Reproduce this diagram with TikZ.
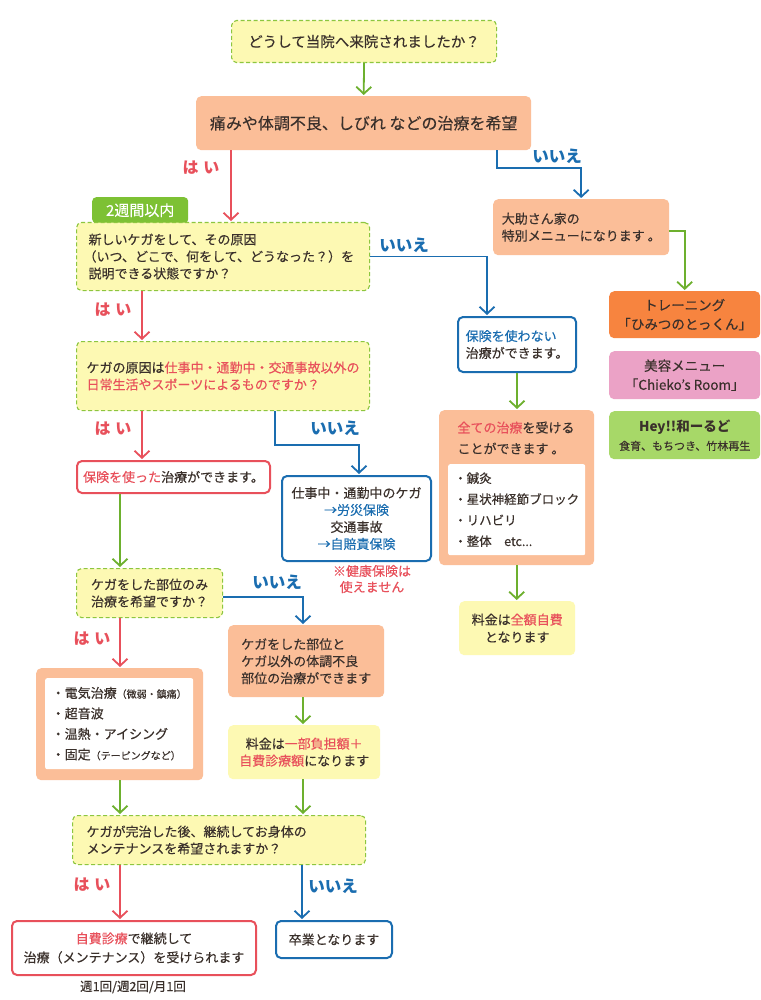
\documentclass[tikz,border=0pt]{standalone}
\usepackage{fontspec}
\setmainfont{Noto Sans CJK JP}[UprightFeatures={FakeBold=0.3}]
\usetikzlibrary{arrows.meta,calc}
\definecolor{ink}{HTML}{3A302B}
\definecolor{qfill}{HTML}{FDF9B3}
\definecolor{qline}{HTML}{8DC63F}
\definecolor{ofill}{HTML}{FBBE98}
\definecolor{dorange}{HTML}{F7843F}
\definecolor{pinkf}{HTML}{EBA2C6}
\definecolor{lgreen}{HTML}{A7D868}
\definecolor{tabg}{HTML}{7DC134}
\definecolor{redc}{HTML}{E8505B}
\definecolor{bluec}{HTML}{1A6DB0}
\definecolor{greenc}{HTML}{6DB02E}
\newcommand{\fs}[2]{\fontsize{#1}{#2}\selectfont}
\newcommand{\hlr}[1]{\textcolor{redc}{#1}}
\newcommand{\hlb}[1]{\textcolor{bluec}{#1}}
\begin{document}
\begin{tikzpicture}[x=1pt,y=-1pt,
  bx/.style={rounded corners=5pt, anchor=north west, inner sep=0pt, text=ink, font=\fs{13}{17}, align=left},
  qbox/.style={bx, fill=qfill, draw=qline, line width=1.1pt, dash pattern=on 4pt off 2.5pt},
  obox/.style={bx, fill=ofill},
  ybox/.style={bx, fill=qfill},
  rbox/.style={bx, fill=white, draw=redc, line width=2pt},
  bbox/.style={bx, fill=white, draw=bluec, line width=2pt},
  wbox/.style={bx, fill=white, rounded corners=2pt},
  conn/.style={line width=1.8pt, -{Straight Barb[length=7pt,width=15pt]}, shorten >=1pt},
  garr/.style={conn, draw=greenc},
  rarr/.style={conn, draw=redc},
  barr/.style={conn, draw=bluec},
  yesl/.style={text=redc, font=\fs{16}{16}\bfseries, inner sep=0pt},
  nol/.style={text=bluec, font=\fs{16.5}{16}\bfseries, inner sep=0pt},
  plain/.style={text=ink, inner sep=0pt, anchor=center}
]
\fill[white] (0,0) rectangle (760,1000);
\useasboundingbox (0,0) rectangle (760,1000);

% boxes
\node[qbox, minimum width=265pt, minimum height=42pt, align=center, font=\fs{14.5}{17}] (q1) at (231,20) {どうして当院へ来院されましたか？};
\node[obox, minimum width=335pt, minimum height=54pt, font=\fs{16}{18}] (main) at (196,96) {痛みや体調不良、しびれ などの治療を希望};
\node[bx, fill=tabg, rounded corners=4pt, minimum width=96pt, minimum height=26pt, text=white, align=center, font=\fs{15}{15}] (tab) at (92,197) {2週間以内};
\node[qbox, minimum width=293pt, minimum height=68pt, text width=269pt, inner xsep=12pt] (q2) at (76,222) {新しいケガをして、その原因\\\hspace*{-5pt}（いつ、どこで、何をして、どうなった？）を\\説明できる状態ですか？};
\node[obox, minimum width=176pt, minimum height=56pt] (dai) at (493,199) {大助さん家の\\特別メニューになります 。};
\node[bx, fill=dorange, minimum width=151pt, minimum height=47pt, align=center, font=\fs{13.5}{19}] (train) at (609,291) {トレーニング\\「ひみつのとっくん」};
\node[bx, fill=pinkf, minimum width=151pt, minimum height=48pt, align=center, font=\fs{13.5}{19}] (beauty) at (609,351) {美容メニュー\\「Chieko’s Room」};
\node[bx, fill=lgreen, minimum width=151pt, minimum height=48pt, align=center, font=\fs{13.5}{19}] (hey) at (609,411) {{\bfseries Hey!!和ーるど}\\{\fs{11}{11}食育、もちつき、竹林再生}};
\node[bbox, minimum width=118pt, minimum height=55pt] (nohok) at (457,316) {\hlb{保険を使わない}\\治療ができます。};
\node[qbox, minimum width=293pt, minimum height=69pt] (q3) at (76,341) {ケガの原因は\hlr{仕事中・通勤中・交通事故以外の}\\\hlr{日常生活やスポーツによるものですか？}};
\node[obox, minimum width=155pt, minimum height=155pt] (all) at (439,410) {};
\node[plain, align=left, font=\fs{13}{21}] (allt) at (516,438) {\hlr{全ての治療}を受ける\\ことができます 。};
\node[wbox, minimum width=137pt, minimum height=91pt, font=\fs{12.5}{21}] (alli) at (448,464) {・鍼灸\\・星状神経節ブロック\\・リハビリ\\・整体　etc...};
\node[rbox, minimum width=193pt, minimum height=32pt] (insok) at (76,460) {\hlr{保険を使った}治療ができます。};
\node[bbox, minimum width=149pt, minimum height=85pt, align=center] (work) at (281,475) {仕事中・通勤中のケガ\\\hlb{→労災保険}\\交通事故\\\hlb{→自賠責保険}};
\node[plain, text=redc, align=center, font=\fs{13}{16}] (note) at (372,579) {※健康保険は\\使えません};
\node[qbox, minimum width=146pt, minimum height=49pt] (q4) at (76,568) {ケガをした部位のみ\\治療を希望ですか？};
\node[obox, minimum width=156pt, minimum height=72pt] (rest) at (228,625) {ケガをした部位と\\ケガ以外の体調不良\\部位の治療ができます};
\node[ybox, minimum width=116pt, minimum height=54pt, align=center, font=\fs{13}{17.5}] (fee1) at (459,601) {料金は\hlr{全額自費}\\となります};
\node[obox, minimum width=167pt, minimum height=112pt] (elec) at (36,668) {};
\node[wbox, minimum width=148pt, minimum height=91pt, font=\fs{13}{20.5}] (eleci) at (45,678) {・電気治療{\fs{10}{10}（微弱・鎮痛）}\\・超音波\\・温熱・アイシング\\・固定{\fs{10}{10}（テーピングなど）}};
\node[ybox, minimum width=152pt, minimum height=54pt, align=center] (fee2) at (228,725) {料金は\hlr{一部負担額＋}\\\hlr{自費診療額}になります};
\node[qbox, minimum width=293pt, minimum height=49pt, text width=265pt, inner xsep=14pt] (q5) at (72,815) {ケガが完治した後、継続してお身体の\\メンテナンスを希望されますか？};
\node[rbox, minimum width=244pt, minimum height=54pt, align=center, font=\fs{13}{19}] (self) at (11,920) {\hlr{自費診療}で継続して\\治療（メンテナンス）を受けられます};
\node[plain, font=\fs{12.5}{12}] (freq) at (133,987) {週1回/週2回/月1回};
\node[bbox, minimum width=116pt, minimum height=37pt, align=center] (grad) at (275,920) {卒業となります};

% connectors
\draw[garr] (q1.south) -- (main.north);

\coordinate (m1) at ($(main.south west)+(35,0)$);
\draw[rarr] (m1) -- (m1 |- q2.north);
\node[yesl] (y1) at (201,168) {は\hspace{5pt}い};

\coordinate (m2) at ($(main.south west)+(301,0)$);
\draw[barr] (m2) -- ++(0,18) -| (dai.north);
\node[nol] (n1) at (557,156) {いいえ};

\coordinate (q2n) at ($(nohok.north west)+(30,0)$);
\draw[barr] (q2.east) -| (q2n);
\node[nol] (n2) at (404,245) {いいえ};

\draw[garr] ($(dai.east)+(0,4)$) -| (train.north);

\coordinate (q2y) at ($(q2.south west)+(66,0)$);
\draw[rarr] (q2y) -- (q2y |- q3.north);
\node[yesl] (y2) at (113,310) {は\hspace{5pt}い};

\draw[garr] (nohok.south) -- (nohok.south |- all.north);

\coordinate (q3y) at ($(q3.south west)+(66,0)$);
\draw[rarr] (q3y) -- (q3y |- insok.north);
\node[yesl] (y3) at (113,429) {は\hspace{5pt}い};

\coordinate (q3n) at ($(q3.south west)+(199,0)$);
\coordinate (wk) at ($(work.north west)+(78,0)$);
\draw[barr] (q3n) -- ++(0,34) -| (wk);
\node[nol] (n3) at (335,428) {いいえ};

\coordinate (io) at ($(insok.south west)+(44,0)$);
\draw[garr] (io) -- (io |- q4.north);

\draw[garr] (all.south) -- (all.south |- fee1.north);

\coordinate (rs) at ($(rest.north west)+(75,0)$);
\draw[barr] ($(q4.east)+(0,4)$) -| (rs);
\node[nol] (n4) at (277,582) {いいえ};

\coordinate (q4y) at ($(q4.south west)+(44,0)$);
\draw[rarr] (q4y) -- (q4y |- elec.north);
\node[yesl] (y4) at (92,639) {は\hspace{5pt}い};

\coordinate (r1) at ($(rest.south west)+(75,0)$);
\draw[garr] (r1) -- (r1 |- fee2.north);

\coordinate (e1) at ($(elec.south west)+(84,0)$);
\draw[garr] (e1) -- (e1 |- q5.north);
\coordinate (f1) at ($(fee2.south west)+(75,0)$);
\draw[garr] (f1) -- (f1 |- q5.north);

\coordinate (q5y) at ($(q5.south west)+(48,0)$);
\draw[rarr] (q5y) -- (q5y |- self.north);
\node[yesl] (y5) at (92,885) {は\hspace{5pt}い};

\coordinate (q5n) at ($(q5.south west)+(230,0)$);
\draw[barr] (q5n) -- (q5n |- grad.north);
\node[nol] (n5) at (333,886) {いいえ};
\end{tikzpicture}
\end{document}
